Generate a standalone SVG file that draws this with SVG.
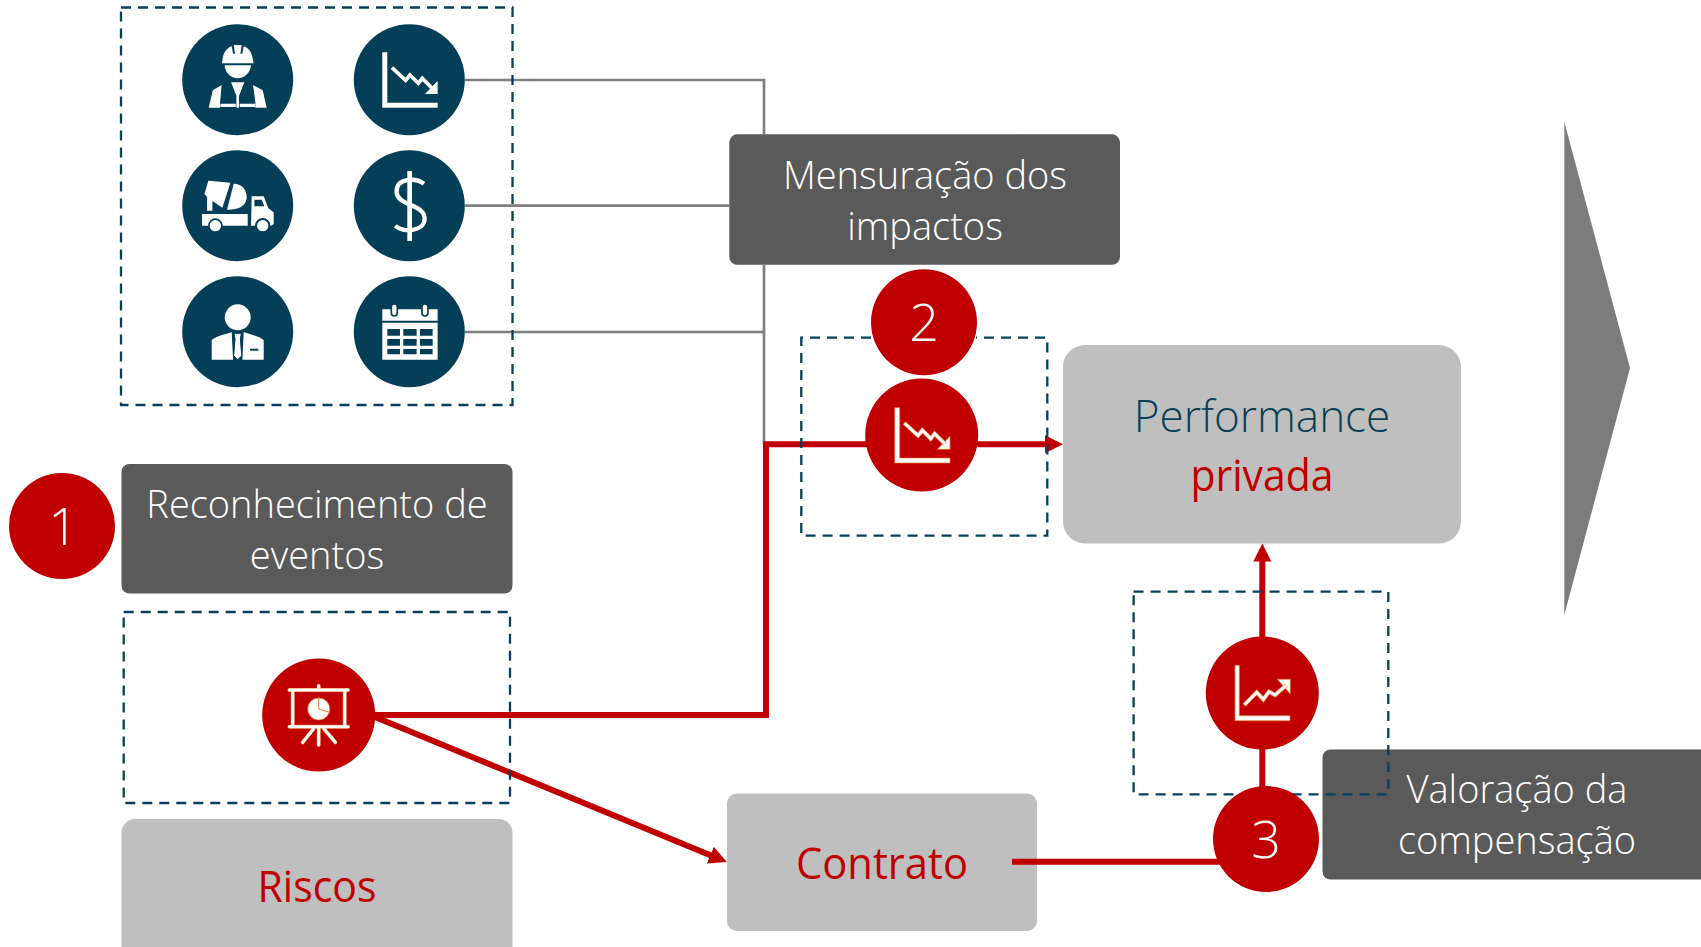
<svg xmlns="http://www.w3.org/2000/svg" width="1701" height="947" viewBox="0 0 1701 947">
<style>
text{font-family:"Open Sans","Noto Sans","Liberation Sans",sans-serif;text-anchor:middle}
.lbl{font-size:38px;font-weight:300;fill:#fff}
.num{font-size:52px;font-weight:300;fill:#fff}
.big{font-size:44px;font-weight:500;fill:#c00000}
.dash{fill:none;stroke:#07405a;stroke-width:2.300;stroke-dasharray:10 7}
.dark{fill:#5a5a5a}
.light{fill:#bfbfbf}
.teal{fill:#043f57}
.red{fill:#c00000}
.rl{fill:none;stroke:#c00000;stroke-width:6}
.gl{fill:none;stroke:#7f7f7f;stroke-width:2.700}
.w{fill:#fff}
.zw{fill:none;stroke:#fff;stroke-width:11}
.zo{fill:none;stroke:#ed7d31;stroke-width:13}
.zi{fill:none;stroke:#fff;stroke-width:9}
.ro{fill:#fff;stroke:#ed7d31;stroke-width:2}
</style>
<defs>
<marker id="ah" markerUnits="userSpaceOnUse" markerWidth="20" markerHeight="20" refX="8" refY="9" orient="auto"><path d="M0 0L18 9L0 18z" fill="#c00000"/></marker>
<path id="da" d="M-81-82h15V69H85v15H-81zM85 4V43H47z"/>
<path id="dz" d="M-52-36L-11 2 2-14 27 11 39-4 70 27"/>
<path id="ua" d="M-82-83h13V68H83v15H-82zM84-41V3L45-41z"/>
<path id="uz" d="M-54 36L-17 -2 3 19 20-4 38 6 72-24"/>
</defs>

<g id="box-mensuracao"><rect class="dark" x="729.300" y="134.300" width="390.700" height="130.500" rx="8"/>
<text class="lbl" x="925" y="188.500">Mensuração dos</text><text class="lbl" x="925" y="240">impactos</text></g>

<g id="box-performance"><rect class="light" x="1063" y="345" width="398" height="198.500" rx="22"/>
<text x="1262" y="431.500" style="font-size:44px;font-weight:300;fill:#0b3f55">Performance</text><text class="big" x="1262" y="491" textLength="143" lengthAdjust="spacingAndGlyphs">privada</text></g>

<g id="box-reconhecimento"><rect class="dark" x="121.500" y="464" width="391" height="129.500" rx="8"/>
<text class="lbl" x="317" y="518">Reconhecimento de</text><text class="lbl" x="317" y="569">eventos</text></g>

<g id="box-riscos"><rect class="light" x="121.500" y="819" width="391" height="150" rx="14"/><text class="big" x="317" y="902" textLength="119" lengthAdjust="spacingAndGlyphs">Riscos</text></g>
<g id="box-contrato"><rect class="light" x="727" y="793.500" width="310" height="137.500" rx="10"/><text class="big" x="882" y="879" textLength="172" lengthAdjust="spacingAndGlyphs">Contrato</text></g>

<g id="box-valoracao"><rect class="dark" x="1322.500" y="749.500" width="400" height="130" rx="8"/>
<text class="lbl" x="1517" y="803">Valoração da</text><text class="lbl" x="1517" y="854">compensação</text></g>

<g id="connectors">
<path class="gl" d="M465 80H764V134.300M764 264.300V445M465 205.700H729.300M465 332H764"/>
<path class="rl" d="M375 715H766V444.300H870"/>
<path class="rl" d="M975 444.300H1053" marker-end="url(#ah)"/>
<path class="rl" d="M375 717L717.700 858.200" marker-end="url(#ah)"/>
<path class="rl" d="M1012 861.700H1225"/>
<path class="rl" d="M1262.300 790V553.500" marker-end="url(#ah)"/>
</g>

<g id="group-resources"><rect class="dash" x="121" y="7.500" width="391.500" height="397.500"/></g>
<g id="group-decline"><path class="dash" d="M871 337.700H801.300V535.700H1047.300V337.700H976"/></g>
<g id="group-risk"><rect class="dash" x="123.700" y="612" width="386.300" height="191"/></g>
<g id="group-gain"><rect class="dash" x="1133.600" y="591.700" width="254.700" height="202.600"/></g>

<g id="icon-worker"><circle class="teal" cx="237.700" cy="79.700" r="55.500"/>
<g class="w" transform="translate(237.700 79.700) scale(.3333)"><path d="M-46-56C-44-85-30-96-18-100L-14-78H-8L-12-104H12L8-78H14L18-100C30-96 44-85 46-56H47V-49H-47V-56z"/><path d="M-39-43H40C38-20 20-4 0-4S-38-20-39-43z"/><path d="M-87 84L-75 32-48 16-53 68V84z"/><path d="M87 84L75 32 46 16 53 68V84z"/><path d="M-20 8H20L4 48V84H-4V48z"/><path d="M-52 72H-6V82H-52zM6 72H52V82H6z"/></g></g>

<g id="icon-truck"><circle class="teal" cx="237.700" cy="205.700" r="55.500"/>
<g class="w" transform="translate(237.700 205.700) scale(.3333)"><path d="M-88-75L-22-69-46 6-76-14V15H-92V-27L-100-35z"/><path d="M-12-66C15-66 27-45 27-25 27-5 10 14-32 12z"/><path d="M-107 25H30V60H-45A22 22 0 0 0-89 60H-107z"/><path d="M42-28H78L92 8 108 20V55L100 60H98A23 23 0 0 0 52 60H40z"/><circle cx="-67" cy="60" r="17"/><circle cx="75" cy="60" r="17"/><path class="teal" d="M50-18H72L80 2H50z"/></g></g>

<g id="icon-manager"><circle class="teal" cx="237.700" cy="331.700" r="55.500"/>
<g class="w" transform="translate(237.700 331.700) scale(.3333)"><circle cy="-43" r="39"/><path d="M-78 84V26C-70 16-40 8-18 2L-14 84z"/><path d="M78 84V26C70 16 40 8 18 2L14 84z"/><path d="M-11 5H11L8 22 12 72 0 84-12 72-8 22z" stroke="#043f57" stroke-width="3"/><path class="teal" d="M37 51H62V57H37z"/></g></g>

<g id="icon-decline"><circle class="teal" cx="409.300" cy="79.700" r="55.500"/><g transform="translate(409.300 79.700) scale(.3333)"><use href="#da" class="w"/><use href="#dz" class="zw"/></g></g>

<g id="icon-dollar"><circle class="teal" cx="409.300" cy="205.700" r="55.500"/>
<g transform="translate(409.300 205.700) scale(.3333)"><path class="w" d="M-6-104H8V106H-6z"/><path fill="none" stroke="#fff" stroke-width="13" d="M44-66C20-84-40-85-38-40-36 0 45-5 46 38 47 78-20 82-42 60"/></g></g>

<g id="icon-calendar"><circle class="teal" cx="409.300" cy="331.700" r="55.500"/>
<g transform="translate(409.300 331.700) scale(.3333)"><path class="w" d="M-81-67H85V-33H-81zM-81-27H85V84H-81z"/>
<rect class="w" x="-54" y="-83" width="18" height="36" rx="9" stroke="#043f57" stroke-width="5"/><rect class="w" x="38" y="-83" width="18" height="36" rx="9" stroke="#043f57" stroke-width="5"/>
<path class="teal" d="M-66-8H-28V12H-66zM-18-8H22V12H-18zM32-8H70V12H32zM-66 22H-28V42H-66zM-18 22H22V42H-18zM32 22H70V42H32zM-66 52H-28V68H-66zM-18 52H22V68H-18zM32 52H70V68H32z"/></g></g>

<g id="marker-2"><circle class="red" cx="924" cy="322.300" r="53"/><text class="num" x="924" y="341">2</text></g>
<g id="icon-decline-red"><circle class="red" cx="921.700" cy="435" r="56.500"/><g transform="translate(921.700 435) scale(.3333)"><use href="#da" class="ro"/><use href="#dz" class="zo"/><use href="#dz" class="zi"/></g></g>

<g id="marker-1"><circle class="red" cx="62" cy="526" r="53"/><text class="num" x="63" y="545">1</text></g>

<g id="icon-presentation"><circle class="red" cx="318.700" cy="715" r="56.500"/>
<g transform="translate(318.700 715) scale(.3333)"><g fill="none" stroke="#ed7d31" stroke-width="12" stroke-linecap="round"><path d="M-88-75H88M-88 35H88M-78-75V35M78-75V35M0-88V-75M0 37V90M-16 42L-48 82M16 42L50 82"/></g><g fill="none" stroke="#fff" stroke-width="9" stroke-linecap="round"><path d="M-88-75H88M-88 35H88M-78-75V35M78-75V35M0-88V-75M0 37V90M-16 42L-48 82M16 42L50 82"/></g><circle class="ro" cy="-18" r="33"/><path d="M0-18V-52M0-18L33-8" stroke="#ed7d31" stroke-width="3" fill="none"/></g></g>

<g id="icon-growth"><circle class="red" cx="1262.300" cy="693" r="56.500"/><g transform="translate(1262.300 693) scale(.3333)"><use href="#ua" class="ro"/><use href="#uz" class="zo"/><use href="#uz" class="zi"/></g></g>

<g id="marker-3"><circle class="red" cx="1266" cy="839" r="53"/><text class="num" x="1266" y="858">3</text></g>

<g id="chevron"><path fill="#7c7c7c" d="M1564.300 121.700L1630 368L1564.300 615z"/></g>
</svg>
